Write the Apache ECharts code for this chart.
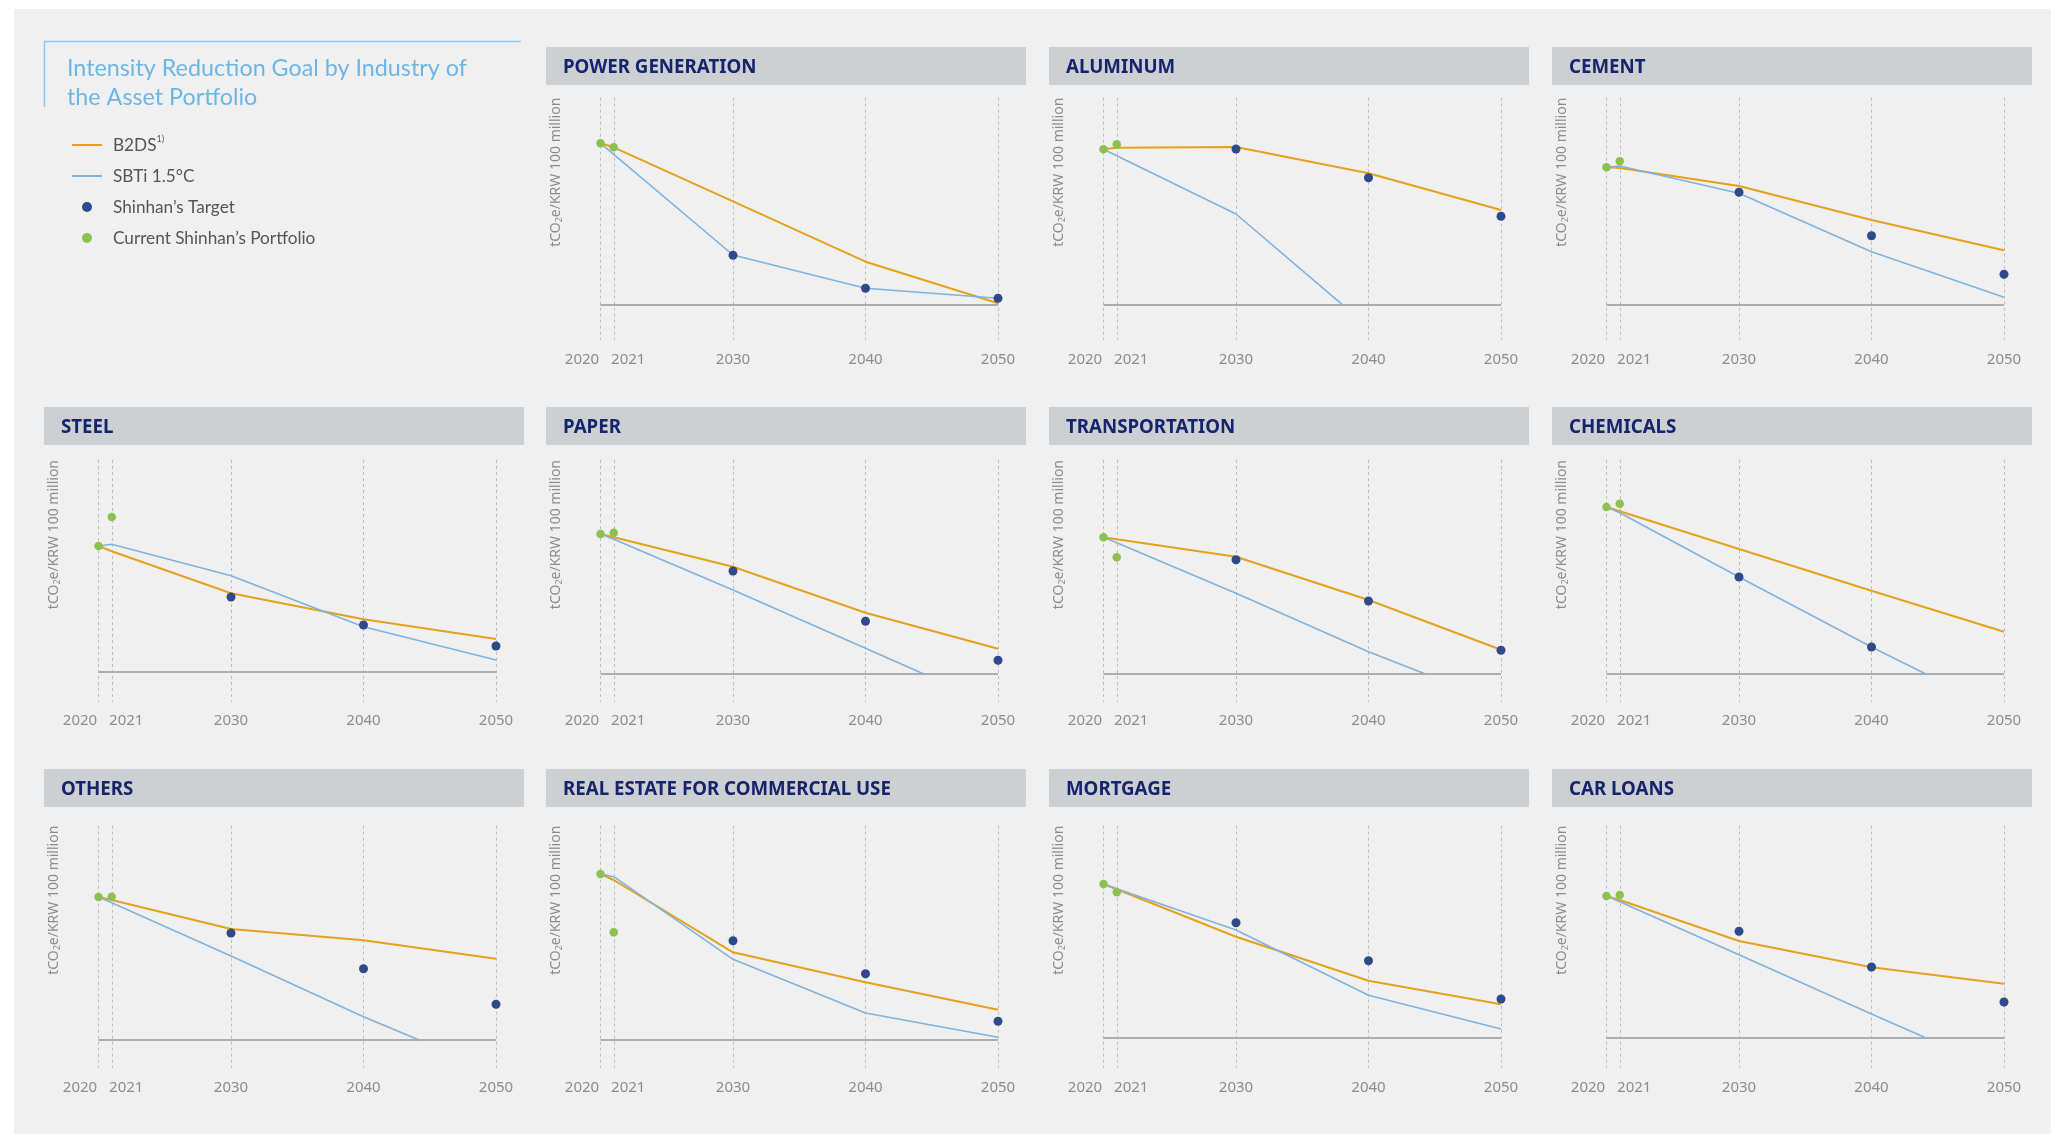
<!DOCTYPE html>
<html><head><meta charset="utf-8">
<script src="https://cdn.jsdelivr.net/npm/echarts@6/dist/echarts.min.js"></script>
<style>html,body{margin:0;padding:0;background:#fff}#c{width:2051px;height:1134px}</style>
</head><body><div id="c"></div>
<script>
// ---------------- DATA ----------------
const years = [2020, 2021, 2030, 2040, 2050];
const industries = ['POWER GENERATION', 'ALUMINUM', 'CEMENT', 'STEEL', 'PAPER', 'TRANSPORTATION',
  'CHEMICALS', 'OTHERS', 'REAL ESTATE FOR COMMERCIAL USE', 'MORTGAGE', 'CAR LOANS'];
// index values (arbitrary intensity units, 0 = baseline), per industry, aligned with years
const b2ds = [
  [161, 157, 103, 42.6, 1],
  [155, 156.6, 157.3, 131, 94.3],
  [137, 136.3, 118.3, 84.3, 54],
  [126, 120.8, 78.7, 52.7, 33],
  [140, 136.7, 107.3, 61.3, 25.3],
  [136.7, 134.7, 117.3, 74, 24.3],
  [167, 162.7, 125, 83.3, 42.3],
  [143, 140, 111, 99.7, 81.3],
  [166, 160, 87.7, 57.7, 30.3],
  [153.3, 148, 100.6, 56.6, 33],
  [141.3, 137.3, 96.3, 70, 53.6]
];
const sbti = [
  [161, 150, 49.3, 16, 6],
  [155, 148.5, 90.3, null, null],
  [137, 138.3, 111, 52.6, 7],
  [126, 127.7, 96.3, 45.3, 12],
  [140, 134.7, 84, 25.7, null],
  [136.7, 131.3, 80.7, 22.3, null],
  [167, 161.3, 97, 27, null],
  [143, 137.3, 84, 23.3, null],
  [166, 163.3, 80.7, 27, 2.7],
  [153.3, 148.6, 107.3, 42, 8.3],
  [141.3, 135.6, 82.6, 23.3, null]
];
// year at which the SBTi pathway reaches zero (null = stays above zero)
const sbtiZeroYear = [null, 2038, null, null, 2044.4, 2044.3, 2044.1, 2044.2, null, null, 2044];
const target = [
  [null, null, 49, 16, 6],
  [null, null, 155.3, 126.6, 88],
  [null, null, 112, 68.6, 30],
  [null, null, 75, 47, 26],
  [null, null, 103, 52.7, 13.7],
  [null, null, 114.3, 73, 23.7],
  [null, null, 97, 27, null],
  [null, null, 107, 71.3, 35.7],
  [null, null, 99.3, 66.3, 18.7],
  [null, null, 114.6, 76.6, 38.3],
  [null, null, 106, 70.3, 35.3]
];
// current portfolio for 2020, 2021
const current = [
  [161, 157], [155, 160], [137, 143], [126, 155], [140, 141.3], [136.7, 116.7],
  [167, 170.3], [143, 143.3], [166, 107.7], [153.3, 145], [141.3, 142.3]
];
const seriesNames = ['B2DS', 'SBTi 1.5°C', 'Shinhan’s Target', 'Current Shinhan’s Portfolio'];
const titleLines = ['Intensity Reduction Goal by Industry of', 'the Asset Portfolio'];

// ---------------- LAYOUT / STYLE ----------------
const FONT = '"Noto Sans", sans-serif';
const FONT2 = 'Lato, "Noto Sans", sans-serif';
const C_ORANGE = '#e5a11c', C_BLUE = '#7fb3dd', C_NAVY = '#2f4a8b', C_GREEN = '#8cc152';
const colLeft = [44, 546, 1049, 1552];
const headerW = 480, headerH = 38;
const rowTop = [47, 407, 769];
const panelPos = [[0,1],[0,2],[0,3],[1,0],[1,1],[1,2],[1,3],[2,0],[2,1],[2,2],[2,3]];
const gridTopRow = [97.7, 460, 825.7];
const gridBottomRow = [340, 701.7, 1068];
const baselineY = [304.3, 304.3, 304.3, 672, 674, 674, 674, 1040, 1040, 1037.3, 1037.3];
const gridOffsetX = 54.5, gridW = 397.5;

const grids = [], xAxes = [], yAxes = [], series = [];
const graphics = [
  {type: 'rect', shape: {x: 0, y: 0, width: 2051, height: 9}, style: {fill: '#fff'}},
  {type: 'rect', shape: {x: 0, y: 0, width: 14, height: 1134}, style: {fill: '#fff'}},
  {type: 'polyline', shape: {points: [[44.5, 107], [44.5, 41.5], [521, 41.5]]}, style: {stroke: '#8ec5ec', lineWidth: 1.5, fill: null}},
  {type: 'text', x: 67, y: 68.5, style: {text: titleLines[0], fill: '#6cb6e6', fontSize: 23.3, fontFamily: FONT2, align: 'left', verticalAlign: 'middle'}},
  {type: 'text', x: 67, y: 97.5, style: {text: titleLines[1], fill: '#6cb6e6', fontSize: 23.3, fontFamily: FONT2, align: 'left', verticalAlign: 'middle'}}
];

industries.forEach((name, i) => {
  const [r, c] = panelPos[i];
  const left = colLeft[c];
  const gTop = gridTopRow[r], gBot = gridBottomRow[r];
  const base = baselineY[i];
  graphics.push({type: 'rect', shape: {x: left, y: rowTop[r], width: headerW, height: headerH}, style: {fill: '#cdd0d3'}});
  graphics.push({type: 'text', x: left + 17, y: rowTop[r] + headerH / 2 + 2,
    style: {text: name, fill: '#15246c', fontSize: 18.7, fontWeight: 'bold', fontFamily: FONT, align: 'left', verticalAlign: 'middle'}});
  graphics.push({type: 'text', x: left + 10, y: gTop, rotation: Math.PI / 2,
    style: {text: '{a|tCO}{s|2}{a|e/KRW 100 million}', align: 'right', verticalAlign: 'middle',
      rich: {a: {fontSize: 14, fontFamily: FONT, fill: '#8c8c8c', lineHeight: 16},
             s: {fontSize: 9, fontFamily: FONT, fill: '#8c8c8c', verticalAlign: 'bottom', lineHeight: 12}}}});

  grids.push({left: left + gridOffsetX, width: gridW, top: gTop, height: gBot - gTop, containLabel: false});
  xAxes.push({type: 'value', gridIndex: i, min: 2020, max: 2050,
    axisLine: {show: false}, axisTick: {show: false, customValues: years},
    splitLine: {show: true, lineStyle: {color: '#bdbdbd', type: [3, 3], width: 1}},
    axisLabel: {customValues: years, margin: 12, color: '#8c8c8c', fontSize: 15, fontFamily: FONT,
      formatter: v => v === 2020 ? '{l|2020}' : v === 2021 ? '{r|2021}' : '{c|' + v + '}',
      rich: {
        l: {padding: [0, 37, 0, 0], color: '#8c8c8c', fontSize: 15, fontFamily: FONT},
        r: {padding: [0, 0, 0, 29], color: '#8c8c8c', fontSize: 15, fontFamily: FONT},
        c: {color: '#8c8c8c', fontSize: 15, fontFamily: FONT}
      }}});
  yAxes.push({type: 'value', gridIndex: i, show: false, min: -(gBot - base), max: base - gTop,
    splitLine: {show: false}});

  const sb = years.map((y, k) => [y, sbti[i][k]]).filter(p => p[1] != null);
  if (sbtiZeroYear[i] != null) sb.push([sbtiZeroYear[i], 0]);

  series.push({type: 'line', name: seriesNames[0], xAxisIndex: i, yAxisIndex: i, symbol: 'none', color: C_ORANGE,
    lineStyle: {color: C_ORANGE, width: 2}, z: 3, data: years.map((y, k) => [y, b2ds[i][k]]),
    markLine: {silent: true, symbol: 'none', z: 1, label: {show: false}, emphasis: {disabled: true},
      lineStyle: {color: '#adadad', type: 'solid', width: 2}, data: [{yAxis: 0}]}});
  series.push({type: 'line', name: seriesNames[1], xAxisIndex: i, yAxisIndex: i, symbol: 'none', color: C_BLUE,
    lineStyle: {color: C_BLUE, width: 1.6}, z: 3, data: sb});
  series.push({type: 'scatter', name: seriesNames[2], xAxisIndex: i, yAxisIndex: i, symbolSize: 9, color: C_NAVY,
    itemStyle: {color: C_NAVY, opacity: 1}, z: 5,
    data: years.map((y, k) => [y, target[i][k]]).filter(p => p[1] != null)});
  series.push({type: 'scatter', name: seriesNames[3], xAxisIndex: i, yAxisIndex: i, symbolSize: 8.5, color: C_GREEN,
    itemStyle: {color: C_GREEN, opacity: 1}, z: 6,
    data: current[i].map((v, k) => [years[k], v])});
});

const chart = echarts.init(document.getElementById('c'), null, {renderer: 'canvas'});
chart.setOption({
  animation: false,
  backgroundColor: '#f0f0f0',
  grid: grids, xAxis: xAxes, yAxis: yAxes, series: series,
  graphic: {elements: graphics},
  legend: {
    orient: 'vertical', left: 67, top: 130, itemWidth: 30, itemHeight: 10, itemGap: 11, selectedMode: false,
    data: [
      {name: seriesNames[0], icon: 'path://M0,0H30V2H0Z'},
      {name: seriesNames[1], icon: 'path://M0,0H30V2H0Z'},
      {name: seriesNames[2], icon: 'circle'},
      {name: seriesNames[3], icon: 'circle'}
    ],
    formatter: n => n === 'B2DS' ? '{t|B2DS}{s|1)}' : '{t|' + n + '}',
    textStyle: {color: '#555', fontSize: 17.2, fontFamily: FONT2, lineHeight: 20,
      rich: {t: {color: '#555', fontSize: 17.2, fontFamily: FONT2, padding: [0, 0, 0, 6], lineHeight: 20},
             s: {color: '#555', fontSize: 9, fontFamily: FONT2, verticalAlign: 'top', lineHeight: 20}}}
  }
});
</script>
</body></html>
